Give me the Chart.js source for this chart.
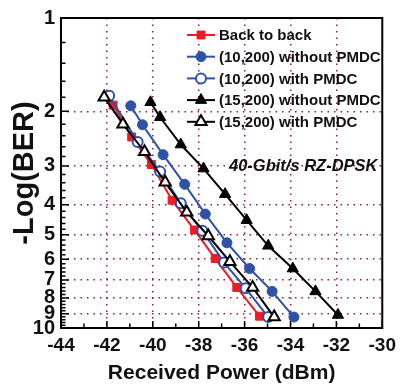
<!DOCTYPE html>
<html><head><meta charset="utf-8">
<script src="https://cdn.jsdelivr.net/npm/chart.js@4/dist/chart.umd.min.js"></script>
<style>html,body{margin:0;padding:0;background:#fff;}canvas{display:block;}</style>
</head><body>
<canvas id="c" width="402" height="386"></canvas>
<script>
// ---- data ----
const seriesNames = ["Back to back", "(10,200) without PMDC", "(10,200) with PMDC", "(15,200) without PMDC", "(15,200) with PMDC"];
const b2bX  = [-41.73, -40.92, -40.06, -39.16, -38.18, -37.28, -36.34, -35.35];
const b2bY  = [1.91, 2.42, 2.97, 3.87, 4.83, 5.97, 7.40, 9.16];
const w10X  = [-40.96, -40.45, -39.55, -38.61, -37.71, -36.77, -35.78, -34.80, -33.85];
const w10Y  = [1.92, 2.21, 2.76, 3.44, 4.29, 5.31, 6.43, 7.62, 9.22];
const p10X  = [-41.90, -40.66, -39.68, -38.78, -37.84, -36.89, -35.95, -34.97];
const p10Y  = [1.78, 2.51, 3.13, 3.96, 4.86, 6.15, 7.45, 9.22];
const w15X  = [-40.10, -39.68, -38.78, -37.79, -36.85, -35.91, -34.97, -33.90, -32.91, -31.93];
const w15Y  = [1.87, 2.09, 2.56, 3.06, 3.70, 4.49, 5.43, 6.43, 7.62, 9.08];
const p15X  = [-42.12, -41.30, -40.36, -39.46, -38.52, -37.58, -36.64, -35.65, -34.71];
const p15Y  = [1.80, 2.20, 2.70, 3.39, 4.23, 5.05, 6.11, 7.40, 9.22];
const xTicks = [-44, -42, -40, -38, -36, -34, -32, -30];
const yTicks = [1, 2, 3, 4, 5, 6, 7, 8, 9, 10];
const annotationText = "40-Gbit/s RZ-DPSK";
const xTitle = "Received Power (dBm)";
const yTitle = "-Log(BER)";

const pts = (xs, ys) => xs.map((x, i) => ({x: x, y: ys[i]}));
const RED = '#ee1c24', BLUE = '#2f52a8', BLACK = '#000000', GRID = 'rgb(140,30,70)';
const FONT = "'Liberation Sans', Arial, Helvetica, sans-serif";
Chart.defaults.font.family = FONT;

const datasets = [
  {label: seriesNames[0], data: pts(b2bX, b2bY), borderColor: RED, backgroundColor: RED, pointStyle: 'rect', pointRadius: 5.6, pointBorderWidth: 1, borderWidth: 2, order: 5},
  {label: seriesNames[1], data: pts(w10X, w10Y), borderColor: BLUE, backgroundColor: BLUE, pointStyle: 'circle', pointRadius: 5, pointBorderWidth: 1, borderWidth: 2, order: 4},
  {label: seriesNames[2], data: pts(p10X, p10Y), borderColor: BLUE, backgroundColor: '#fff', pointBackgroundColor: '#fff', pointStyle: 'circle', pointRadius: 5, pointBorderWidth: 2, borderWidth: 2, order: 3},
  {label: seriesNames[3], data: pts(w15X, w15Y), borderColor: BLACK, backgroundColor: BLACK, pointStyle: 'triangle', pointRadius: 6.5, pointBorderWidth: 1, borderWidth: 2, order: 2},
  {label: seriesNames[4], data: pts(p15X, p15Y), borderColor: BLACK, backgroundColor: '#fff', pointBackgroundColor: '#fff', pointStyle: 'triangle', pointRadius: 6.5, pointBorderWidth: 2, borderWidth: 2, order: 1}
];

function drawMarker(ctx, ds, x, y) {
  ctx.save();
  ctx.lineWidth = ds.pointBorderWidth;
  ctx.strokeStyle = ds.borderColor;
  ctx.fillStyle = ds.pointBackgroundColor || ds.backgroundColor;
  const r = ds.pointRadius;
  ctx.beginPath();
  if (ds.pointStyle === 'rect') {
    const s = Math.SQRT1_2 * r; ctx.rect(x - s, y - s, 2 * s, 2 * s);
  } else if (ds.pointStyle === 'circle') {
    ctx.arc(x, y, r, 0, Math.PI * 2);
  } else {
    let a = 0;
    ctx.moveTo(x + Math.sin(a) * r, y - Math.cos(a) * r);
    a += 2 * Math.PI / 3; ctx.lineTo(x + Math.sin(a) * r, y - Math.cos(a) * r);
    a += 2 * Math.PI / 3; ctx.lineTo(x + Math.sin(a) * r, y - Math.cos(a) * r);
    ctx.closePath();
  }
  ctx.fill(); ctx.stroke();
  ctx.restore();
}

const decor = {
  id: 'decor',
  beforeDatasetsDraw(chart) {
    const {ctx, chartArea: a, scales: {x, y}} = chart;
    ctx.save();
    ctx.strokeStyle = '#000';
    ctx.lineWidth = 1.5;
    // minor / major ticks on left axis (inside)
    ctx.beginPath();
    for (let v = 1; v <= 10.001; v += 0.2) {
      const val = Math.round(v * 10) / 10;
      const py = y.getPixelForValue(val);
      const isMajor = Math.abs(val - Math.round(val)) < 1e-6;
      ctx.moveTo(a.left, py); ctx.lineTo(a.left + (isMajor ? 8 : 4.5), py);
    }
    // ticks on bottom axis (inside)
    for (let v = -44; v <= -30; v += 1) {
      const px = x.getPixelForValue(v);
      const isMajor = v % 2 === 0;
      ctx.moveTo(px, a.bottom); ctx.lineTo(px, a.bottom - (isMajor ? 7 : 4.5));
    }
    ctx.stroke();
    // frame
    ctx.lineWidth = 2;
    ctx.strokeRect(a.left, a.top, a.right - a.left, a.bottom - a.top);
    ctx.restore();
  },
  afterDraw(chart) {
    const {ctx} = chart;
    ctx.save();
    // legend
    chart.data.datasets.forEach((ds, i) => {
      const ly = 35 + i * 21.7;
      ctx.strokeStyle = ds.borderColor; ctx.lineWidth = 2;
      ctx.beginPath(); ctx.moveTo(187, ly); ctx.lineTo(215, ly); ctx.stroke();
      drawMarker(ctx, ds, 201, ly);
      ctx.fillStyle = '#111';
      ctx.font = "bold 15px " + FONT;
      ctx.textBaseline = 'middle'; ctx.textAlign = 'left';
      ctx.fillText(ds.label, 219, ly + 1);
    });
    // annotation
    ctx.font = "italic bold 16.5px " + FONT;
    ctx.fillStyle = '#111';
    ctx.textBaseline = 'middle'; ctx.textAlign = 'left';
    ctx.fillText(annotationText, 229, 166);
    ctx.restore();
  }
};

new Chart(document.getElementById('c'), {
  type: 'line',
  data: {datasets: datasets},
  options: {
    responsive: false,
    animation: false,
    devicePixelRatio: 1,
    layout: {padding: {top: 15, right: 14, left: 0, bottom: 0}},
    plugins: {legend: {display: false}, tooltip: {enabled: false}},
    elements: {line: {tension: 0}},
    scales: {
      x: {
        type: 'linear', position: 'bottom', min: -44, max: -30,
        afterBuildTicks: s => { s.ticks = xTicks.map(v => ({value: v})); },
        afterFit: s => { s.height = 58; },
        ticks: {font: {size: 19, weight: 'bold'}, color: '#111', padding: 6, maxRotation: 0, callback: v => v},
        grid: {color: c => (c.tick && (c.tick.value === -44 || c.tick.value === -30)) ? 'rgba(0,0,0,0)' : GRID, lineWidth: 1.5, drawTicks: false},
        border: {display: false, dash: [1.5, 5]},
        title: {display: true, text: xTitle, font: {size: 21, weight: 'bold'}, color: '#111', padding: {top: 0, bottom: 0}}
      },
      y: {
        type: 'logarithmic', position: 'left', min: 1, max: 10, reverse: true,
        afterBuildTicks: s => { s.ticks = yTicks.map(v => ({value: v})); },
        afterFit: s => { s.width = 61; },
        ticks: {font: {size: 20, weight: 'bold'}, color: '#111', padding: 6, callback: v => v},
        grid: {color: c => (c.tick && (c.tick.value === 1 || c.tick.value === 10)) ? 'rgba(0,0,0,0)' : GRID, lineWidth: 1.5, drawTicks: false},
        border: {display: false, dash: [1.5, 5]},
        title: {display: true, text: yTitle, font: {size: 29, weight: 'bold'}, color: '#111', padding: {top: 8, bottom: 0}}
      }
    }
  },
  plugins: [decor]
});
</script>
</body></html>
